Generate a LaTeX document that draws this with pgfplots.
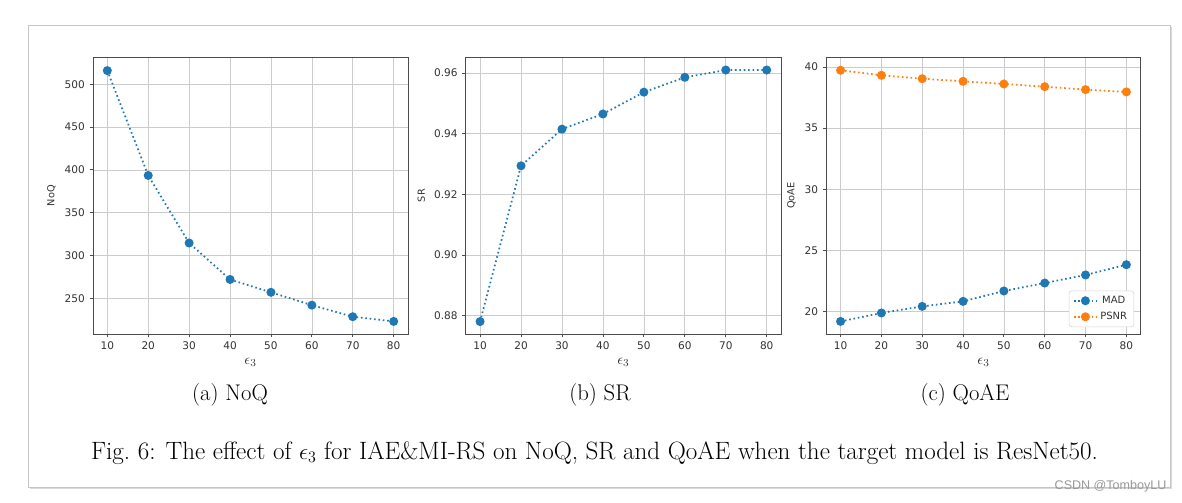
\documentclass[border=0pt]{standalone}
\usepackage{pgfplots}
\pgfplotsset{compat=1.18}
\usepackage{fontspec}
\newfontfamily\dv{DejaVu Sans}
\newfontfamily\ls{Liberation Sans}
\definecolor{c0}{HTML}{1F77B4}
\definecolor{c1}{HTML}{FF7F0E}
\pgfplotsset{
 myax/.style={
  scale only axis, width=236.25pt, height=207.5pt,
  xmin=6.5, xmax=83.5, xtick={10,20,...,80},
  grid=major, grid style={gray!40, line width=0.5pt},
  axis line style={black!70, line width=0.7pt},
  tick align=outside, tick pos=left, major tick length=2.6pt,
  tick style={black!70, line width=0.6pt},
  /pgf/number format/assume math mode=true,
  tick label style={font=\dv\fontsize{7.9}{9}\selectfont, text=black!80},
  label style={font=\dv\fontsize{7.3}{8}\selectfont, text=black!80},
  xlabel style={font=\fontsize{11}{12}\selectfont, yshift=1pt},
  xlabel={$\epsilon_3$},
  every axis plot/.append style={line width=1.3pt, dash pattern=on 1.2pt off 2.1pt, mark=*, mark size=2.7pt, mark options={solid}},
 }
}
\pgfplotstableread{
x noq sr mad psnr
10 516 0.878 19.18 39.73
20 393.5 0.9294 19.87 39.32
30 314.6 0.9415 20.41 39.04
40 272 0.9465 20.82 38.83
50 257 0.9537 21.67 38.61
60 242 0.9586 22.32 38.39
70 228.5 0.9610 22.98 38.15
80 223 0.9610 23.82 37.96
}\data
\begin{document}
\begin{tikzpicture}
\path[use as bounding box, fill=white] (0,0) rectangle (886.5pt,377.25pt);
\fill[gray!30] (22.5pt,10.5pt) rectangle (879pt,357pt);
\filldraw[fill=white, draw=gray!45, line width=0.6pt] (21pt,12pt) rectangle (877.5pt,358.5pt);
% (a)
\begin{axis}[myax, at={(69.75pt,126.75pt)}, anchor=south west,
  ymin=208.3, ymax=531.5, ytick={250,300,...,500}, ylabel={NoQ}]
\addplot[c0] table[x=x,y=noq]{\data};
\end{axis}
% (b)
\begin{axis}[myax, at={(349.3pt,126.75pt)}, anchor=south west, width=236.5pt,
  ymin=0.8739, ymax=0.9652, ytick={0.88,0.90,...,0.96}, ylabel={SR},
  yticklabel style={/pgf/number format/.cd, fixed, fixed zerofill, precision=2}]
\addplot[c0] table[x=x,y=sr]{\data};
\end{axis}
% (c)
\begin{axis}[myax, at={(619.7pt,126.75pt)}, anchor=south west, width=235.8pt,
  ymin=18.15, ymax=40.79, ytick={20,25,...,40}, ylabel={QoAE},
  legend style={at={(0.979,0.025)}, anchor=south east, draw=gray!35, rounded corners=2pt,
    font=\dv\fontsize{7.5}{9}\selectfont, text=black!80, row sep=1pt}]
\addplot[c0] table[x=x,y=mad]{\data};
\addlegendentry{MAD}
\addplot[c1] table[x=x,y=psnr]{\data};
\addlegendentry{PSNR}
\end{axis}
\node[font=\fontsize{17}{20}\selectfont] at (172.5pt,81pt) {(a) NoQ};
\node[font=\fontsize{17}{20}\selectfont] at (450pt,81pt) {(b) SR};
\node[font=\fontsize{17}{20}\selectfont] at (723.75pt,81pt) {(c) QoAE};
\node[font=\fontsize{18.8}{22}\selectfont] at (445.9pt,37.5pt) {Fig.~6: The effect of $\epsilon_3$ for IAE\&MI-RS on NoQ, SR and QoAE when the target model is ResNet50.};
\node[font=\ls\fontsize{9.4}{10}\selectfont, text=gray!80] at (832.9pt,12.75pt) {CSDN @TomboyLU};
\end{tikzpicture}
\end{document}
